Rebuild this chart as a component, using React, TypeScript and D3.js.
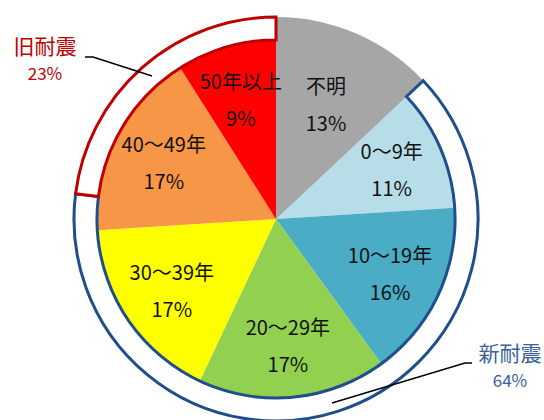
import React from 'react';
import * as d3 from 'd3';

// Building age breakdown (share of buildings, %)
const categories = ['不明', '0～9年', '10～19年', '20～29年', '30～39年', '40～49年', '50年以上'];
const shares = [13, 11, 16, 17, 17, 17, 9];
const sliceColors = ['#A6A6A6', '#B7DEE8', '#4BACC6', '#92D050', '#FFFF00', '#F79646', '#FF0000'];

// Outer ring: seismic-code groups, starting before 12 o'clock so 不明 begins at the top
const groups = ['旧耐震', '不明', '新耐震'];
const groupShares = [23, 13, 64];

const W = 544;
const H = 420;
const cx = 276;
const cy = 219;
const rInner = 179;
const rOuter = 202;
const FONT = "'Noto Sans CJK JP', 'Noto Sans', sans-serif";

export default function App() {
  const pie = d3.pie<number>().sort(null).value((d) => d);
  const slices = pie(shares);

  const tau = Math.PI * 2;
  const ringStart = (-groupShares[0] / 100) * tau;
  const ring = d3
    .pie<number>()
    .sort(null)
    .value((d) => d)
    .startAngle(ringStart)
    .endAngle(ringStart + tau)(groupShares);

  const sliceArc = d3.arc<d3.PieArcDatum<number>>().innerRadius(0).outerRadius(rInner);
  const ringArc = d3.arc<d3.PieArcDatum<number>>().innerRadius(rInner).outerRadius(rOuter);
  const grayArc = d3.arc<d3.PieArcDatum<number>>().innerRadius(0).outerRadius(rOuter);
  const labelArc = d3.arc<d3.PieArcDatum<number>>().innerRadius(126).outerRadius(126);

  const oldIdx = groups.indexOf('旧耐震');
  const newIdx = groups.indexOf('新耐震');
  const unknownIdx = groups.indexOf('不明');

  return (
    <svg
      width={W}
      height={H}
      style={{ position: 'absolute', left: 0, top: 0, background: '#fff' }}
      fontFamily={FONT}
    >
      <g transform={`translate(${cx},${cy})`}>
        {slices.map((s, i) => (
          <path key={categories[i]} d={sliceArc(s) || ''} fill={sliceColors[i]} />
        ))}
        {/* 不明 extends through the ring band */}
        <path
          d={grayArc({ ...slices[0], startAngle: ring[unknownIdx].startAngle, endAngle: ring[unknownIdx].endAngle }) || ''}
          fill={sliceColors[0]}
        />
        <path d={ringArc(ring[newIdx]) || ''} fill="#fff" stroke="#1F4E8C" strokeWidth={3} />
        <path d={ringArc(ring[oldIdx]) || ''} fill="#fff" stroke="#C00000" strokeWidth={3} />

        {slices.map((s, i) => {
          const [x, y] = labelArc.centroid(s);
          return (
            <g key={'l' + categories[i]} fontSize={20} fill="#111" textAnchor="middle">
              <text x={x} y={y - 18} dominantBaseline="central">
                {categories[i]}
              </text>
              <text x={x} y={y + 19} dominantBaseline="central">
                {shares[i]}%
              </text>
            </g>
          );
        })}
      </g>

      {/* group callouts */}
      <polyline points="85,57 93,57 152,76" fill="none" stroke="#000" strokeWidth={1.5} />
      <text x={45} y={45} textAnchor="middle" dominantBaseline="central" fontSize={21} fill="#C00000">
        {groups[oldIdx]}
      </text>
      <text x={45} y={72} textAnchor="middle" dominantBaseline="central" fontSize={17} fill="#C00000">
        {groupShares[oldIdx]}%
      </text>

      <polyline points="472,363 465,363 332,403" fill="none" stroke="#000" strokeWidth={1.5} />
      <text x={510} y={352} textAnchor="middle" dominantBaseline="central" fontSize={21} fill="#3A6199">
        {groups[newIdx]}
      </text>
      <text x={510} y={379} textAnchor="middle" dominantBaseline="central" fontSize={17} fill="#3A6199">
        {groupShares[newIdx]}%
      </text>
    </svg>
  );
}
